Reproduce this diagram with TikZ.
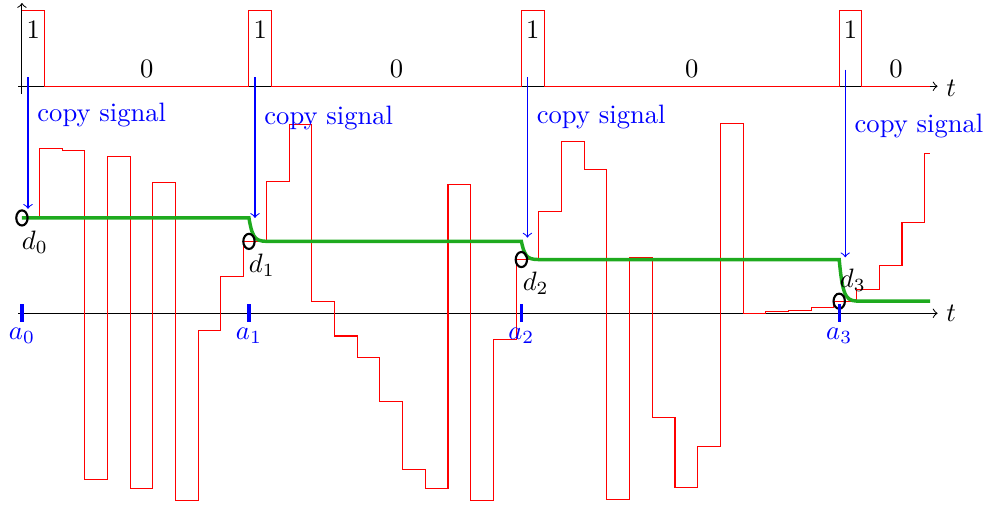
\documentclass[tikz,border=0pt]{standalone}
\usepackage{amsmath}
\usetikzlibrary{shapes.geometric}
\definecolor{dgreen}{RGB}{30,170,30}

\begin{document}
\begin{tikzpicture}[dmark/.style={draw,thick,ellipse,minimum width=0.15cm,minimum height=0.2cm,inner sep=0pt},
        atick/.style={blue,very thick},
        copyarrow/.style={->,blue}]
        \useasboundingbox (-0.29,-2.58) rectangle (12.74,4.14);
        % axes
        \draw[->] (-0.05,3) -- (12.1,3);
        \draw[->] (-0.05,0) -- (12.1,0);
        \node (t0) at (12.28,2.97) {$t$};
        \node (t1) at (12.28,0) {$t$};
        % clock
        \draw[red] (0,3) -- (0,4) -- (0.3,4) -- (0.3,3) -- (3,3) -- (3,4) -- (3.3,4) -- (3.3,3) -- (6.6,3) -- (6.6,4) -- (6.9,4) -- (6.9,3) -- (10.8,3) -- (10.8,4) -- (11.1,4) -- (11.1,3) -- (12,3);
        \draw[->] (0,2.9) -- (0,4.1);
        \node (one0) at (0.15,3.75) {1};
        \node (one1) at (3.15,3.75) {1};
        \node (one2) at (6.75,3.75) {1};
        \node (one3) at (10.95,3.75) {1};
        \node (zero0) at (1.65,3.23) {0};
        \node (zero1) at (4.95,3.23) {0};
        \node (zero2) at (8.85,3.23) {0};
        \node (zero3) at (11.55,3.23) {0};
        % input
        \draw[red] (0,1.26) -| (0.23,2.18) -| (0.53,2.15) -| (0.83,-2.20) -| (1.13,2.07) -| (1.43,-2.31) -| (1.73,1.73) -| (2.03,-2.48) -| (2.33,-0.23) -| (2.63,0.49) -| (2.93,0.95) -| (3.23,1.74) -| (3.53,2.50) -| (3.83,0.16) -| (4.13,-0.30) -| (4.43,-0.59) -| (4.73,-1.16) -| (5.03,-2.06) -| (5.33,-2.32) -| (5.63,1.70) -| (5.93,-2.48) -| (6.23,-0.35) -| (6.53,0.71) -| (6.83,1.35) -| (7.13,2.27) -| (7.43,1.90) -| (7.73,-2.46) -| (8.03,0.74) -| (8.33,-1.38) -| (8.63,-2.30) -| (8.93,-1.76) -| (9.23,2.51) -| (9.53,0.00) -| (9.83,0.02) -| (10.13,0.04) -| (10.43,0.08) -| (10.73,0.16) -| (11.03,0.31) -| (11.33,0.63) -| (11.63,1.20) -| (11.93,2.11) -- (12,2.11);
        % output
        \draw[dgreen,line width=1.3pt] (0,1.26) -- (3,1.26) .. controls (3.05,0.95) and (3.1,0.95) .. (3.3,0.95) -- (6.6,0.95) .. controls (6.65,0.71) and (6.7,0.71) .. (6.88,0.71) -- (10.8,0.71) .. controls (10.85,0.16) and (10.9,0.16) .. (11.1,0.16) -- (12,0.16);
        \node[dmark] (c0) at (0,1.26) {};
        \node[dmark] (c1) at (3,0.95) {};
        \node[dmark] (c2) at (6.6,0.71) {};
        \node[dmark] (c3) at (10.8,0.16) {};
        \node (d0) at (0.17,0.94) {$d_0$};
        \node (d1) at (3.17,0.63) {$d_1$};
        \node (d2) at (6.79,0.40) {$d_2$};
        \node (d3) at (10.98,0.44) {$d_3$};
        \draw[atick] (0,0.12) -- (0,-0.12);
        \draw[atick] (3,0.12) -- (3,-0.12);
        \draw[atick] (6.6,0.12) -- (6.6,-0.12);
        \draw[atick] (10.8,0.12) -- (10.8,-0.12);
        \node[blue] (a0) at (0,-0.3) {$a_0$};
        \node[blue] (a1) at (3,-0.3) {$a_1$};
        \node[blue] (a2) at (6.6,-0.3) {$a_2$};
        \node[blue] (a3) at (10.8,-0.3) {$a_3$};
        % copy
        \coordinate (s0) at (0.08,3.12);
        \coordinate (e0) at (0.08,1.38);
        \coordinate (s1) at (3.08,3.12);
        \coordinate (e1) at (3.08,1.26);
        \coordinate (s2) at (6.68,3.12);
        \coordinate (e2) at (6.68,1.0);
        \coordinate (s3) at (10.88,3.22);
        \coordinate (e3) at (10.88,0.74);
        \draw[copyarrow] (s0) -- node[right,pos=0.29] {copy signal} (e0);
        \draw[copyarrow] (s1) -- node[right,pos=0.29] {copy signal} (e1);
        \draw[copyarrow] (s2) -- node[right,pos=0.25] {copy signal} (e2);
        \draw[copyarrow] (s3) -- node[right,pos=0.3] {copy signal} (e3);
    \end{tikzpicture}
\end{document}
